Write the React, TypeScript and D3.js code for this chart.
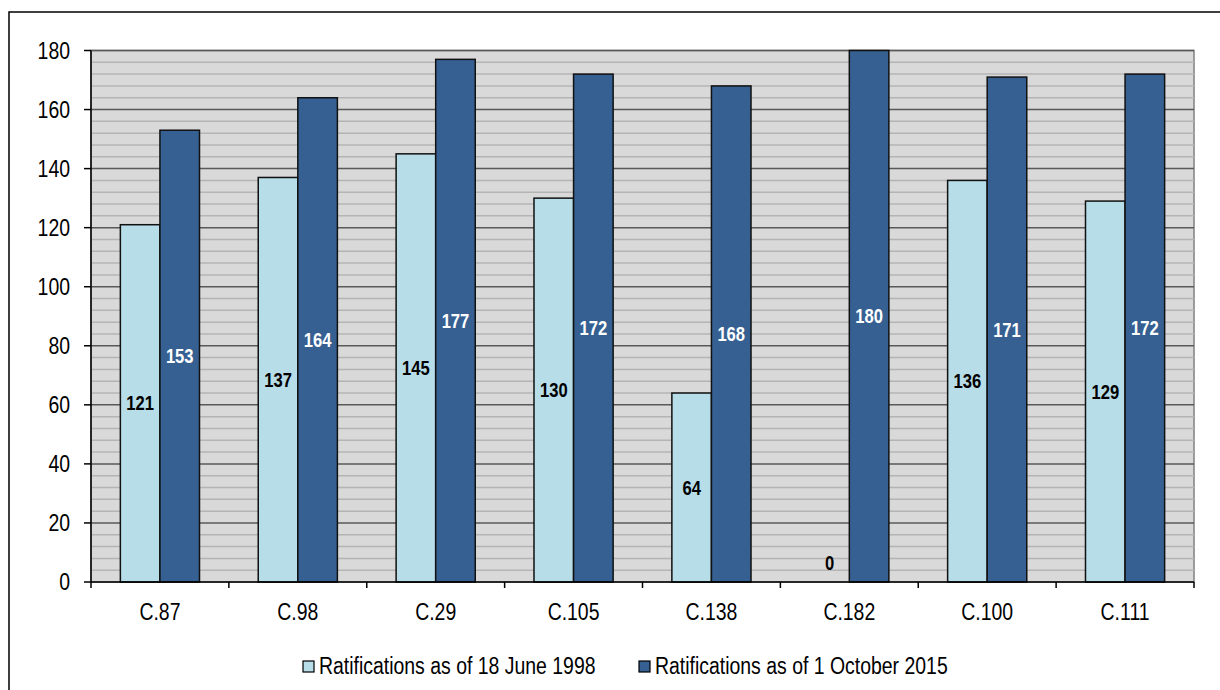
import React from "react";
import * as d3 from "d3";

const categories = ["C.87", "C.98", "C.29", "C.105", "C.138", "C.182", "C.100", "C.111"];
const series1998 = [121, 137, 145, 130, 64, 0, 136, 129];
const series2015 = [153, 164, 177, 172, 168, 180, 171, 172];
const seriesNames = ["Ratifications as of 18 June 1998", "Ratifications as of 1 October 2015"];
const yTicks = [0, 20, 40, 60, 80, 100, 120, 140, 160, 180];
const minorStep = 4;

const W = 1220;
const H = 690;
const FONT = "'Liberation Sans', Arial, sans-serif";
const LIGHT = "#b7dde8";
const DARK = "#366092";

type TProps = {
  x: number;
  y: number;
  anchor?: "start" | "middle" | "end";
  size: number;
  sx?: number;
  bold?: boolean;
  fill?: string;
  children: React.ReactNode;
};

function T({ x, y, anchor = "start", size, sx = 0.81, bold, fill = "#000", children }: TProps) {
  return (
    <text
      transform={`translate(${x},${y}) scale(${sx},1)`}
      dy="0.35em"
      textAnchor={anchor}
      fontFamily={FONT}
      fontSize={size}
      fontWeight={bold ? "bold" : "normal"}
      fill={fill}
    >
      {children}
    </text>
  );
}

export default function App() {
  const left = 91, right = 1194, top = 50.5, bottom = 582;
  const x = d3.scaleBand<string>().domain(categories).range([left, right]).paddingInner(0).paddingOuter(0);
  const y = d3.scaleLinear().domain([0, 180]).range([bottom, top]);
  const bw = x.bandwidth();
  const barW = bw * 0.287;
  const minor = d3.range(0, 181, minorStep).filter((v) => v % 20 !== 0);
  const series = [series1998, series2015];
  const colors = [LIGHT, DARK];
  const labelColors = ["#000", "#fff"];

  return (
    <svg width={W} height={H} style={{ position: "absolute", left: 0, top: 0, background: "#fff" }}>
      <rect x={9} y={12} width={W + 20} height={H + 20} fill="#fff" stroke="#000" strokeWidth={1.5} />
      <rect x={left} y={top} width={right - left} height={bottom - top} fill="#d9d9d9" stroke="#808080" strokeWidth={1.5} />
      {minor.map((v) => (
        <line key={"m" + v} x1={left} x2={right} y1={y(v)} y2={y(v)} stroke="#b4b4b4" strokeWidth={1.5} />
      ))}
      {yTicks.filter((v) => v > 0).map((v) => (
        <line key={"g" + v} x1={left} x2={right} y1={y(v)} y2={y(v)} stroke="#595959" strokeWidth={1.5} />
      ))}
      {categories.map((c, i) => {
        const cx = (x(c) as number) + bw / 2;
        return (
          <g key={c}>
            {series.map((s, k) => {
              const v = s[i];
              const bx = k === 0 ? cx - barW : cx;
              return v > 0 ? (
                <rect key={k} x={bx} y={y(v)} width={barW} height={y(0) - y(v)} fill={colors[k]} stroke="#111" strokeWidth={1.5} />
              ) : null;
            })}
            {series.map((s, k) => {
              const v = s[i];
              const bx = k === 0 ? cx - barW : cx;
              const ly = Math.min((y(v) + y(0)) / 2, y(0) - 19);
              return (
                <T key={"l" + k} x={bx + barW / 2} y={ly} anchor="middle" size={20} sx={0.83} bold fill={labelColors[k]}>
                  {v}
                </T>
              );
            })}
          </g>
        );
      })}
      {/* axes */}
      <line x1={left} x2={left} y1={top} y2={bottom} stroke="#000" strokeWidth={1.5} />
      <line x1={left} x2={right} y1={bottom} y2={bottom} stroke="#000" strokeWidth={1.5} />
      {yTicks.map((v) => (
        <g key={"t" + v}>
          <line x1={left - 7} x2={left} y1={y(v)} y2={y(v)} stroke="#000" strokeWidth={1.5} />
          <T x={70} y={y(v)} anchor="end" size={24}>
            {v}
          </T>
        </g>
      ))}
      {categories.map((c) => (
        <line key={"xt" + c} x1={x(c) as number} x2={x(c) as number} y1={bottom} y2={bottom + 6} stroke="#000" strokeWidth={1.5} />
      ))}
      <line x1={right} x2={right} y1={bottom} y2={bottom + 6} stroke="#000" strokeWidth={1.5} />
      {categories.map((c) => (
        <T key={"xl" + c} x={(x(c) as number) + bw / 2} y={612} anchor="middle" size={24}>
          {c}
        </T>
      ))}
      {/* legend */}
      {seriesNames.map((n, k) => {
        const lx = k === 0 ? 303 : 639;
        return (
          <g key={n}>
            <rect x={lx} y={661} width={11} height={11} fill={colors[k]} stroke="#000" strokeWidth={1.2} />
            <T x={lx + 16} y={666} size={24}>
              {n}
            </T>
          </g>
        );
      })}
    </svg>
  );
}
